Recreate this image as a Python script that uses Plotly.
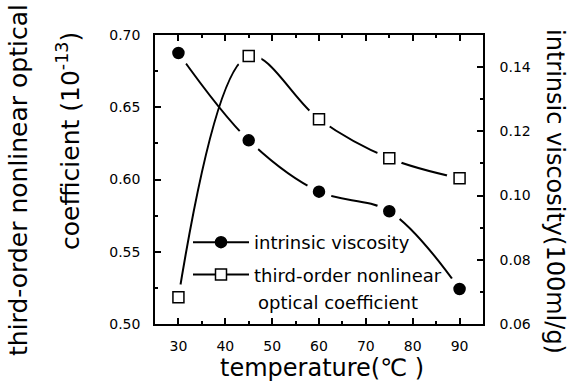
import plotly.graph_objects as go

temperature = [30, 45, 60, 75, 90]
optical_coeff = [0.5185, 0.6855, 0.6417, 0.6147, 0.6008]   # left axis, open squares
viscosity = [0.1444, 0.1172, 0.1012, 0.0951, 0.0709]       # right axis, filled circles

x_ticks = [30, 40, 50, 60, 70, 80, 90]
y_ticks = [0.50, 0.55, 0.60, 0.65, 0.70]
y2_ticks = [0.06, 0.08, 0.10, 0.12, 0.14]

FONT = "DejaVu Sans"
W, H = 570, 383
L, R, T, B = 155, 87, 35, 59
PW, PH = W - L - R, H - T - B

def px(xp):
    return (xp - L) / PW

def py(yp):
    return (H - B - yp) / PH

fig = go.Figure()

def add_series(y, yaxis, symbol, fill, name, group):
    fig.add_trace(go.Scatter(x=temperature, y=y, yaxis=yaxis, mode="lines",
                             line=dict(color="black", width=2, shape="spline", smoothing=1.0),
                             showlegend=False, hoverinfo="skip"))
    fig.add_trace(go.Scatter(x=temperature, y=y, yaxis=yaxis, mode="markers",
                             marker=dict(symbol="circle", size=26, color="white"),
                             showlegend=False, hoverinfo="skip"))
    fig.add_trace(go.Scatter(x=temperature, y=y, yaxis=yaxis, mode="markers",
                             marker=dict(symbol=symbol, size=11, color=fill,
                                         line=dict(color="black", width=1.5)),
                             showlegend=False))
    fig.add_trace(go.Scatter(x=[None], y=[None], yaxis=yaxis, mode="lines+markers", name=name,
                             legendgroup=group,
                             marker=dict(symbol=symbol, size=11, color=fill,
                                         line=dict(color="black", width=1.5)),
                             line=dict(color="black", width=2)))

add_series(viscosity, "y2", "circle", "black", "intrinsic viscosity", "g1")
add_series(optical_coeff, "y", "square", "white", "third-order nonlinear", "g2")

axis_common = dict(showline=True, linecolor="black", linewidth=1.5, ticks="inside",
                   ticklen=6, tickwidth=1.5, tickcolor="black", showgrid=False, zeroline=False,
                   tickfont=dict(family=FONT, size=14, color="black"))

fig.update_layout(
    width=W, height=H,
    margin=dict(l=L, r=R, t=T, b=B),
    paper_bgcolor="white", plot_bgcolor="white",
    xaxis=dict(range=[25, 95], tickvals=x_ticks, mirror="ticks",
               minor=dict(dtick=5, ticklen=3, tickwidth=1.5, tickcolor="black", ticks="inside"),
               ticklabelstandoff=8, **axis_common),
    yaxis=dict(range=[0.50, 0.70], tickvals=y_ticks, tickformat=".2f",
               minor=dict(dtick=0.025, ticklen=3, tickwidth=1.5, tickcolor="black", ticks="inside"),
               ticklabelstandoff=10, **axis_common),
    yaxis2=dict(range=[0.06, 0.15], tickvals=y2_ticks, tickformat=".2f", overlaying="y",
                side="right",
                minor=dict(dtick=0.01, ticklen=3, tickwidth=1.5, tickcolor="black", ticks="inside"),
                ticklabelstandoff=12, **axis_common),
    legend=dict(x=px(188), y=py(224), xanchor="left", yanchor="top",
                bgcolor="rgba(0,0,0,0)", itemwidth=56, traceorder="grouped",
                font=dict(family=FONT, size=18, color="black"), tracegroupgap=6),
    showlegend=True,
)

ann = dict(xref="paper", yref="paper", showarrow=False, xanchor="center", yanchor="middle",
           font=dict(family=FONT, size=25, color="black"))
fig.add_annotation(text="third-order nonlinear optical", x=px(18), y=py(180), textangle=-90, **ann)
fig.add_annotation(text="coefficient (10<sup>-13</sup>)", x=px(68), y=py(141), textangle=-90, **ann)
ann["font"] = dict(family=FONT, size=24, color="black")
fig.add_annotation(text="intrinsic viscosity(100ml/g)", x=px(555), y=py(191), textangle=90, **ann)
fig.add_annotation(text="temperature(℃ )", x=px(322), y=py(368), textangle=0, **ann)
fig.add_annotation(text="optical coefficient", x=px(256), y=py(302), xref="paper", yref="paper",
                   showarrow=False, xanchor="left", yanchor="middle",
                   font=dict(family=FONT, size=18, color="black"))

fig.write_html("out.html")
